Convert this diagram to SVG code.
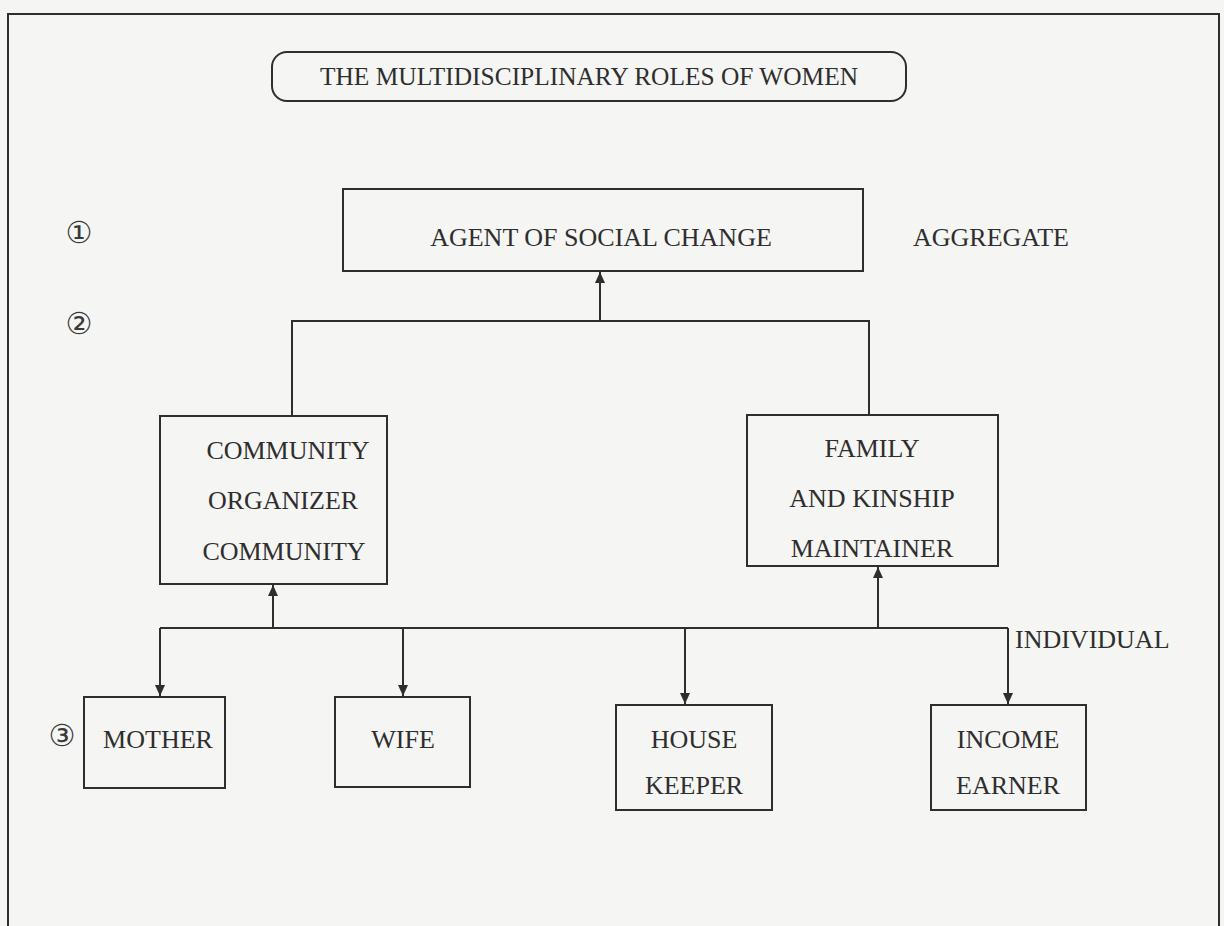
<svg xmlns="http://www.w3.org/2000/svg" width="1224" height="926" viewBox="0 0 1224 926">
<defs>
<style>
.bg{fill:#f5f5f3}
.box{fill:none;stroke:#2e2e2e;stroke-width:2}
.t{font-family:"Liberation Serif","Times New Roman",serif;font-size:26px;fill:#2e2e2e;text-anchor:middle}
.tl{font-family:"Liberation Serif","Times New Roman",serif;font-size:26px;fill:#2e2e2e;text-anchor:start}
.num{font-family:"DejaVu Sans","Noto Sans CJK JP",sans-serif;font-size:30px;fill:#3a3a3a;text-anchor:middle}
.ln{fill:none;stroke:#2e2e2e;stroke-width:2}
</style>
<marker id="arr" markerUnits="userSpaceOnUse" markerWidth="12" markerHeight="12" refX="11" refY="5" orient="auto">
<path d="M0,0 L11,5 L0,10 Z" fill="#2e2e2e"/>
</marker>
</defs>
<rect class="bg" x="0" y="0" width="1224" height="926"/>
<path class="ln" d="M8,940 V14 H1219 V940"/>

<g id="title">
<rect class="box" x="272" y="52" width="634" height="49" rx="15"/>
<text class="t" x="589" y="85" textLength="538" lengthAdjust="spacingAndGlyphs">THE MULTIDISCIPLINARY ROLES OF WOMEN</text>
</g>

<g id="levels">
<text class="num" x="79" y="243">①</text>
<text class="num" x="79" y="334">②</text>
<text class="num" x="62" y="746">③</text>
<text class="tl" x="913" y="246">AGGREGATE</text>
<text class="tl" x="1015" y="648">INDIVIDUAL</text>
</g>

<g id="agent">
<rect class="box" x="343" y="189" width="520" height="82"/>
<text class="t" x="601" y="246">AGENT OF SOCIAL CHANGE</text>
</g>

<g id="community">
<rect class="box" x="160" y="416" width="227" height="168"/>
<text class="t" x="288" y="459">COMMUNITY</text>
<text class="t" x="283" y="509">ORGANIZER</text>
<text class="t" x="284" y="560">COMMUNITY</text>
</g>

<g id="family">
<rect class="box" x="747" y="415" width="251" height="151"/>
<text class="t" x="872" y="457">FAMILY</text>
<text class="t" x="872" y="507">AND KINSHIP</text>
<text class="t" x="872" y="557">MAINTAINER</text>
</g>

<g id="mother">
<rect class="box" x="84" y="697" width="141" height="91"/>
<text class="t" x="158" y="748">MOTHER</text>
</g>

<g id="wife">
<rect class="box" x="335" y="697" width="135" height="90"/>
<text class="t" x="403" y="748">WIFE</text>
</g>

<g id="housekeeper">
<rect class="box" x="616" y="705" width="156" height="105"/>
<text class="t" x="694" y="748">HOUSE</text>
<text class="t" x="694" y="794">KEEPER</text>
</g>

<g id="income">
<rect class="box" x="931" y="705" width="155" height="105"/>
<text class="t" x="1008" y="748">INCOME</text>
<text class="t" x="1008" y="794">EARNER</text>
</g>

<g id="connectors">
<path class="ln" d="M292,416 V321 H869 V415"/>
<path class="ln" d="M600,321 V272" marker-end="url(#arr)"/>
<path class="ln" d="M160,628 H1008"/>
<path class="ln" d="M273,628 V585" marker-end="url(#arr)"/>
<path class="ln" d="M878,628 V567" marker-end="url(#arr)"/>
<path class="ln" d="M160,628 V696" marker-end="url(#arr)"/>
<path class="ln" d="M403,628 V696" marker-end="url(#arr)"/>
<path class="ln" d="M685,628 V704" marker-end="url(#arr)"/>
<path class="ln" d="M1008,628 V704" marker-end="url(#arr)"/>
</g>
</svg>
